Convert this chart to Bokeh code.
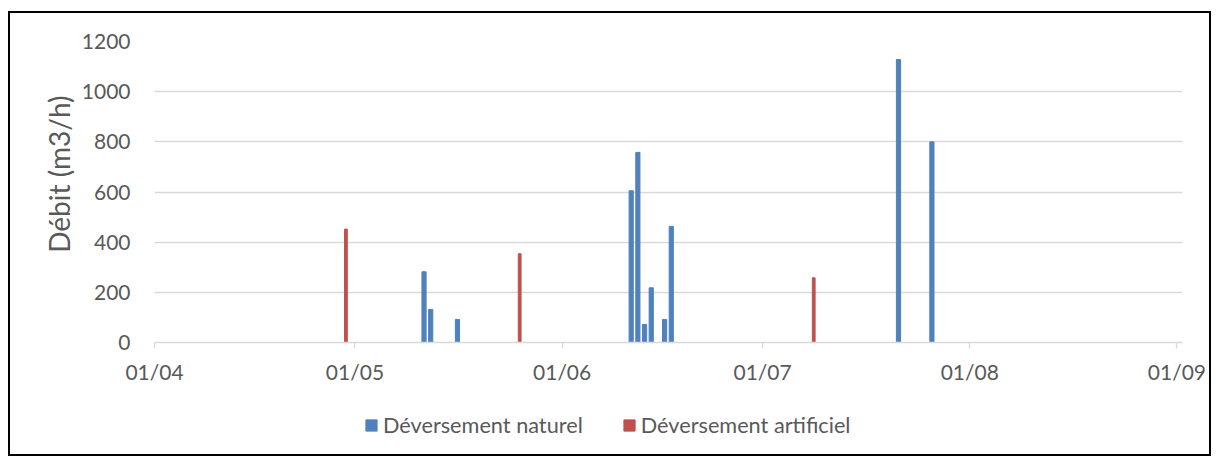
import pandas as pd
from bokeh.plotting import figure
from bokeh.layouts import column
from bokeh.models import (ColumnDataSource, Range1d, Legend, LegendItem, Title,
                          FixedTicker, DatetimeTickFormatter)
from bokeh.embed import file_html
from bokeh.resources import INLINE

# ---- data ----
natural_times = ["2019-05-11 08:00", "2019-05-12 08:00", "2019-05-16 08:00",
                 "2019-06-11 08:00", "2019-06-12 08:00", "2019-06-13 08:00",
                 "2019-06-14 08:00", "2019-06-16 08:00", "2019-06-17 08:00",
                 "2019-07-21 08:00", "2019-07-26 08:00"]
natural_values = [282, 132, 92, 605, 758, 72, 218, 92, 463, 1128, 800]

artificial_times = ["2019-04-29 15:30", "2019-05-25 15:30", "2019-07-08 15:30"]
artificial_values = [452, 354, 258]

month_ticks = ["2019-04-01", "2019-05-01", "2019-06-01", "2019-07-01",
               "2019-08-01", "2019-09-01"]
y_ticks = [0, 200, 400, 600, 800, 1000, 1200]

labels = ["Déversement naturel", "Déversement artificiel"]
y_title = "Débit (m3/h)"

# ---- styling ----
FONT = "Lato"
TXT = "#595959"
GRID = "#d9d9d9"
BLUE = "#4F81BD"
RED = "#C0504D"
HOUR = 3600 * 1000
W = 1199

nat = ColumnDataSource(dict(x=pd.to_datetime(natural_times), y=natural_values))
art = ColumnDataSource(dict(x=pd.to_datetime(artificial_times), y=artificial_values))

x0 = pd.Timestamp(month_ticks[0])
x1 = pd.Timestamp(month_ticks[-1]) + pd.Timedelta(hours=20)

p = figure(width=W, height=380, x_axis_type="datetime",
           x_range=Range1d(x0, x1), y_range=Range1d(0, 1200),
           output_backend="svg", toolbar_location=None,
           min_border_left=144, min_border_right=27,
           min_border_top=28, min_border_bottom=51)
p.outline_line_color = None
p.background_fill_color = "white"
p.border_fill_color = "white"

r_nat = p.vbar(x="x", top="y", width=15 * HOUR, source=nat,
               fill_color=BLUE, line_color=BLUE)
r_art = p.vbar(x="x", top="y", width=10 * HOUR, source=art,
               fill_color=RED, line_color=RED)

# x axis
p.xaxis.ticker = FixedTicker(ticks=[pd.Timestamp(t).value / 1e6 for t in month_ticks])
fmt = "%d/%m"
p.xaxis.formatter = DatetimeTickFormatter(days=fmt, months=fmt, years=fmt,
                                          hours=fmt, hourmin=fmt)
p.xaxis.axis_line_color = GRID
p.xaxis.axis_line_width = 1.3
p.xaxis.major_tick_line_color = GRID
p.xaxis.major_tick_line_width = 1.3
p.xaxis.major_tick_out = 6
p.xaxis.major_tick_in = 0
p.xaxis.minor_tick_line_color = None
p.xaxis.major_label_text_font = FONT
p.xaxis.major_label_text_font_size = "21px"
p.xaxis.major_label_text_color = TXT
p.xaxis.major_label_standoff = 10
p.xgrid.grid_line_color = None

# y axis
p.yaxis.ticker = FixedTicker(ticks=y_ticks)
p.yaxis.axis_line_color = None
p.yaxis.major_tick_line_color = None
p.yaxis.minor_tick_line_color = None
p.yaxis.major_label_text_font = FONT
p.yaxis.major_label_text_font_size = "21px"
p.yaxis.major_label_text_color = TXT
p.yaxis.major_label_standoff = 18
p.ygrid.ticker = FixedTicker(ticks=y_ticks)
p.ygrid.grid_line_color = GRID
p.ygrid.grid_line_width = 1.3

# y axis title (as a side title so it can sit slightly above centre)
p.add_layout(Title(text=y_title, align="right", offset=54,
                   vertical_align="bottom", standoff=6,
                   text_font=FONT, text_font_size="28px",
                   text_font_style="normal", text_color=TXT), "left")

# legend strip below the chart
q = figure(width=W, height=61, x_range=Range1d(0, 1), y_range=Range1d(0, 1),
           output_backend="svg", toolbar_location=None,
           min_border_left=0, min_border_right=0,
           min_border_top=0, min_border_bottom=0)
q.axis.visible = False
q.grid.visible = False
q.outline_line_color = None
q.border_fill_color = "white"
lg_nat = q.vbar(x="x", top="y", width=0.1, source=nat,
                fill_color=BLUE, line_color=BLUE, visible=False)
lg_art = q.vbar(x="x", top="y", width=0.1, source=art,
                fill_color=RED, line_color=RED, visible=False)

legend = Legend(items=[LegendItem(label=labels[0], renderers=[lg_nat]),
                       LegendItem(label=labels[1], renderers=[lg_art])],
                orientation="horizontal", location=(210, 16),
                glyph_width=14, glyph_height=14, label_height=14,
                label_standoff=5, spacing=39, padding=0, margin=0,
                border_line_color=None, background_fill_alpha=0,
                label_text_font=FONT, label_text_font_size="21.7px",
                label_text_color=TXT)
q.add_layout(legend, "center")

layout = column(p, q, spacing=0)
layout.styles = {"border": "2px solid #000000", "margin-top": "11px",
                 "margin-left": "8px"}

open("out.html", "w").write(file_html(layout, INLINE))
